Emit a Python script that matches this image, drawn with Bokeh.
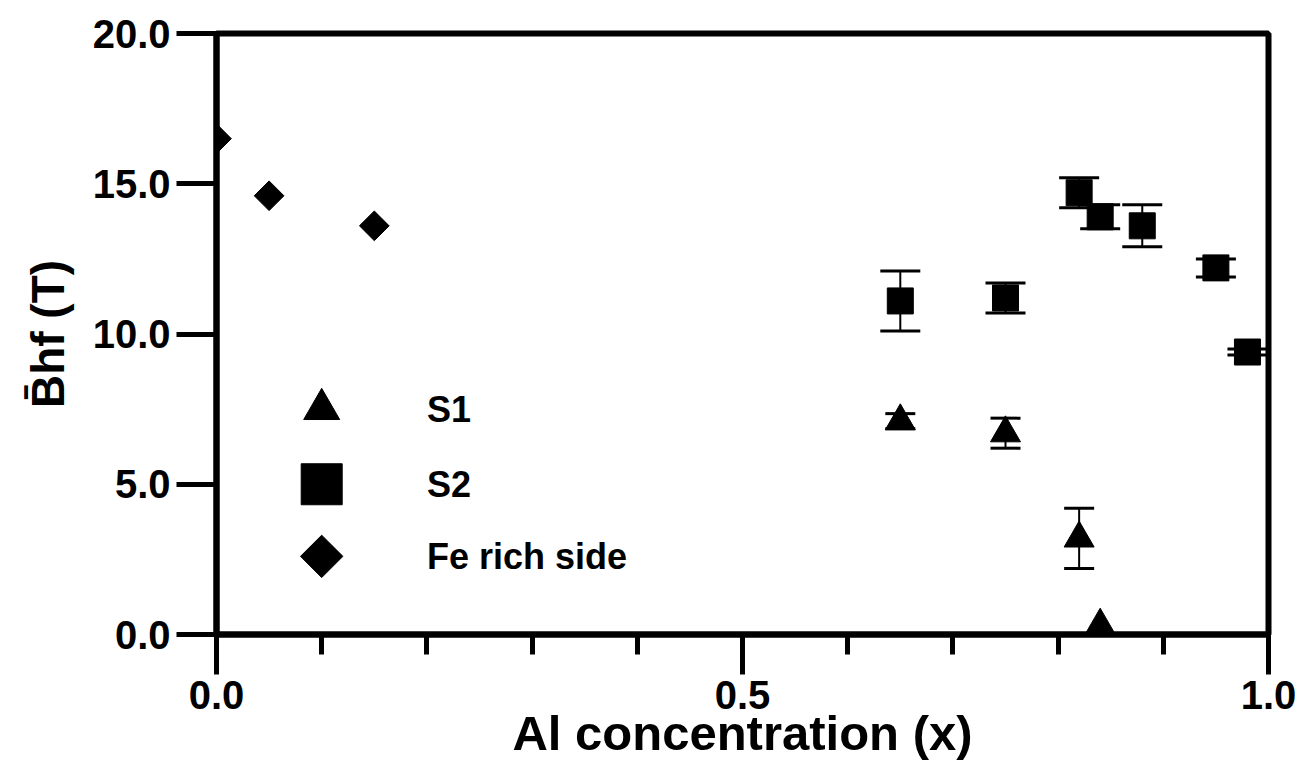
from bokeh.plotting import figure
from bokeh.models import (ColumnDataSource, Range1d, FixedTicker, PrintfTickFormatter,
                          Whisker, TeeHead)
from bokeh.core.properties import value
from bokeh.embed import file_html
from bokeh.resources import INLINE

# ---- data ----
s1_x = [0.65, 0.75, 0.82, 0.84]
s1_y = [7.1, 6.7, 3.2, 0.3]
s1_err = [0.25, 0.5, 1.0, 0.0]

s2_x = [0.65, 0.75, 0.82, 0.84, 0.88, 0.95, 0.98]
s2_y = [11.1, 11.2, 14.7, 13.9, 13.6, 12.2, 9.4]
s2_err = [1.0, 0.5, 0.5, 0.4, 0.7, 0.3, 0.1]

fe_x = [0.0, 0.05, 0.15]
fe_y = [16.5, 14.6, 13.6]

x_major = [0.0, 0.5, 1.0]
x_minor = [0.1, 0.2, 0.3, 0.4, 0.6, 0.7, 0.8, 0.9]
y_major = [0.0, 5.0, 10.0, 15.0, 20.0]

legend_labels = ["S1", "S2", "Fe rich side"]

FONT = "Liberation Sans"

p = figure(width=1314, height=772, output_backend="svg", toolbar_location=None,
           x_range=Range1d(0, 1), y_range=Range1d(0, 20),
           min_border_left=216, min_border_right=46, min_border_top=33,
           min_border_bottom=138)
p.grid.visible = False
p.background_fill_color = "white"
p.border_fill_color = "white"
p.outline_line_color = "black"
p.outline_line_width = 6

xa = p.xaxis[0]
xa.ticker = FixedTicker(ticks=x_major, minor_ticks=x_minor)
xa.formatter = PrintfTickFormatter(format="%.1f")
xa.axis_line_width = 6
xa.major_tick_line_width = 5
xa.minor_tick_line_width = 5
xa.major_tick_in = 0
xa.major_tick_out = 40
xa.minor_tick_in = 0
xa.minor_tick_out = 20
xa.major_label_standoff = 6
xa.major_label_text_font = FONT
xa.major_label_text_font_style = "bold"
xa.major_label_text_font_size = "40px"
xa.major_label_text_color = "black"
xa.axis_label = "Al concentration (x)"
xa.axis_label_text_font = FONT
xa.axis_label_text_font_style = "bold"
xa.axis_label_text_font_size = "49px"
xa.axis_label_text_color = "black"
xa.axis_label_standoff = -6

ya = p.yaxis[0]
ya.ticker = FixedTicker(ticks=y_major, minor_ticks=[])
ya.formatter = PrintfTickFormatter(format="%.1f")
ya.axis_line_width = 6
ya.major_tick_line_width = 5
ya.major_tick_in = 0
ya.major_tick_out = 40
ya.minor_tick_out = 0
ya.minor_tick_in = 0
ya.major_label_standoff = 6
ya.major_label_text_font = FONT
ya.major_label_text_font_style = "bold"
ya.major_label_text_font_size = "40px"
ya.major_label_text_color = "black"
ya.axis_label = "B\u0304hf (T)"
ya.axis_label_text_font = FONT
ya.axis_label_text_font_style = "bold"
ya.axis_label_text_font_size = "46px"
ya.axis_label_text_color = "black"
ya.axis_label_standoff = 16

# ---- error bars ----
s1_src = ColumnDataSource(dict(x=s1_x, y=s1_y))
s2_src = ColumnDataSource(dict(x=s2_x, y=s2_y,
                               upper=[v + e for v, e in zip(s2_y, s2_err)],
                               lower=[v - e for v, e in zip(s2_y, s2_err)]))
fe_src = ColumnDataSource(dict(x=fe_x, y=fe_y))

# only draw S1 whiskers where error is non-zero
s1_w_src = ColumnDataSource(dict(
    x=[x for x, e in zip(s1_x, s1_err) if e > 0],
    upper=[v + e for v, e in zip(s1_y, s1_err) if e > 0],
    lower=[v - e for v, e in zip(s1_y, s1_err) if e > 0]))

p.add_layout(Whisker(source=s1_w_src, base="x", upper="upper", lower="lower",
                     dimension="height", line_width=2, line_color="black",
                     upper_head=TeeHead(size=30, line_width=3, line_color="black"),
                     lower_head=TeeHead(size=30, line_width=3, line_color="black"),
                     level="underlay"))
p.add_layout(Whisker(source=s2_src, base="x", upper="upper", lower="lower",
                     dimension="height", line_width=2, line_color="black",
                     upper_head=TeeHead(size=40, line_width=3, line_color="black"),
                     lower_head=TeeHead(size=40, line_width=3, line_color="black"),
                     level="underlay"))

# ---- markers ----
p.scatter("x", "y", source=s1_src, marker="triangle", size=30,
          fill_color="black", line_color="black")
p.scatter("x", "y", source=s2_src, marker="square", size=26,
          fill_color="black", line_color="black")
p.scatter("x", "y", source=fe_src, marker="square", size=21, angle=0.785398,
          fill_color="black", line_color="black")

# ---- legend (drawn in the plot as in the original figure) ----
leg_mx = 0.10
leg_tx = 0.20
leg_y = [7.5, 5.0, 2.6]
p.scatter([leg_mx], [leg_y[0]], marker="triangle", size=36,
          fill_color="black", line_color="black")
p.scatter([leg_mx], [leg_y[1]], marker="square", size=41,
          fill_color="black", line_color="black")
p.scatter([leg_mx], [leg_y[2]], marker="square", size=30, angle=0.785398,
          fill_color="black", line_color="black")
p.text(x=[leg_tx] * 3, y=leg_y, text=legend_labels,
       text_font=value(FONT), text_font_style="bold", text_font_size="36px",
       text_baseline="middle", text_align="left", text_color="black")

open("out.html", "w").write(file_html(p, INLINE))
